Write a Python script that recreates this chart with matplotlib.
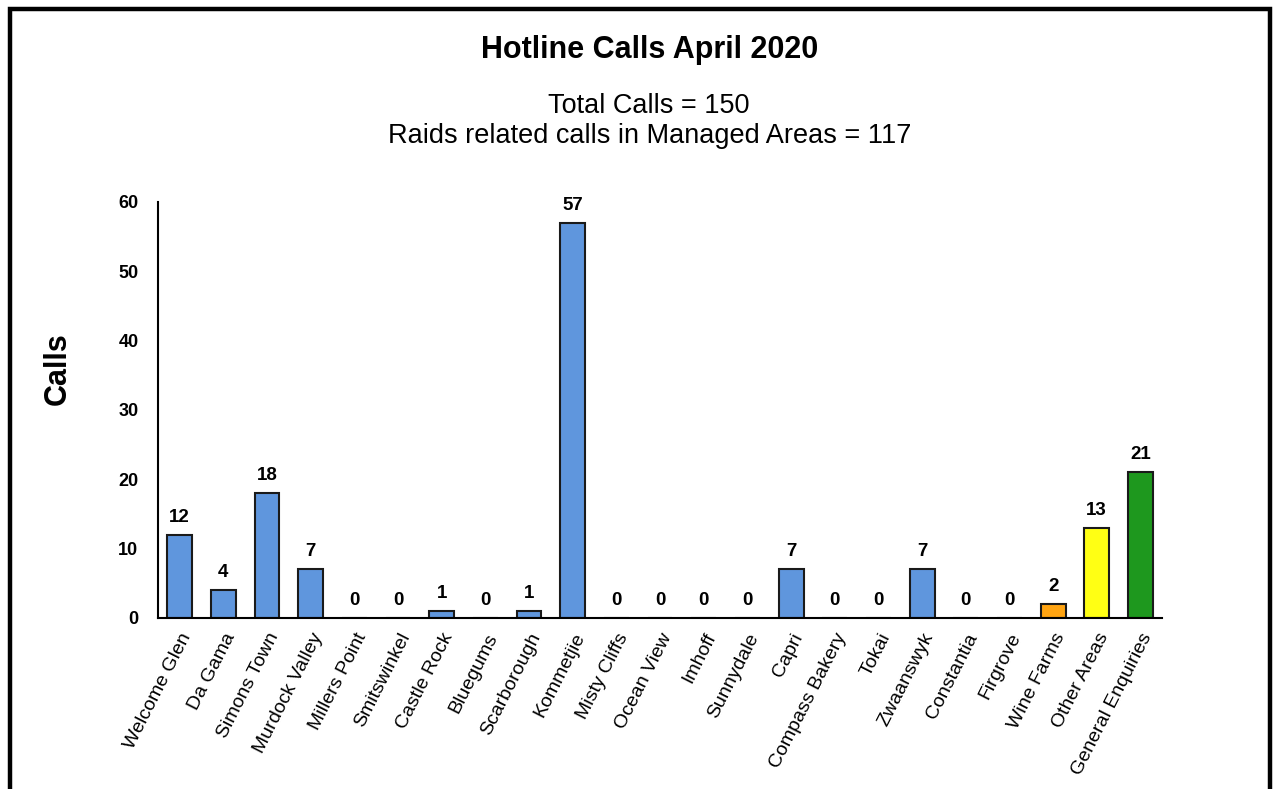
import numpy as np
import matplotlib
matplotlib.use("Agg")
from matplotlib import pyplot as plt
from matplotlib.patches import Rectangle

plt.rcParams['font.family'] = ['Liberation Sans', 'DejaVu Sans']

### DATA ###
areas = ['Welcome Glen', 'Da Gama', 'Simons Town', 'Murdock Valley', 'Millers Point',
         'Smitswinkel', 'Castle Rock', 'Bluegums', 'Scarborough', 'Kommetjie',
         'Misty Cliffs', 'Ocean View', 'Imhoff', 'Sunnydale', 'Capri',
         'Compass Bakery', 'Tokai', 'Zwaanswyk', 'Constantia', 'Firgrove',
         'Wine Farms', 'Other Areas', 'General Enquiries']
calls = [12, 4, 18, 7, 0, 0, 1, 0, 1, 57, 0, 0, 0, 0, 7, 0, 0, 7, 0, 0, 2, 13, 21]
colours = ['#5f96dd'] * 20 + ['#ffa412', '#ffff14', '#1e981e']

### FIGURE ###
fig = plt.figure(figsize=(12.73, 7.89), dpi=100)
ax = fig.add_axes([0.124, 0.217, 0.789, 0.527])

x = np.arange(len(areas))
ax.bar(x, calls, width=0.57, color=colours, edgecolor='#1a1a1a', linewidth=1.5)

for xi, v in zip(x, calls):
    ax.text(xi, v + 1.3, str(v), ha='center', va='bottom', fontsize=13.5, fontweight='bold')

ax.set_xlim(-0.5, len(areas) - 0.5)
ax.set_ylim(0, 60)
ax.set_yticks(range(0, 61, 10))
ax.set_xticks(x)
ax.set_xticklabels(areas, rotation=63, ha='right', rotation_mode='anchor', fontsize=14)
for lab in ax.get_yticklabels():
    lab.set_fontweight('bold')
    lab.set_fontsize(13)
ax.tick_params(axis='both', length=0)
ax.tick_params(axis='y', pad=14)
ax.tick_params(axis='x', pad=9)

for s in ['top', 'right']:
    ax.spines[s].set_visible(False)
ax.spines['left'].set_linewidth(1.5)
ax.spines['bottom'].set_linewidth(1.5)

ax.set_ylabel('Calls', fontsize=22, fontweight='bold')
ax.yaxis.set_label_coords(-0.085, 0.6)

### TITLES ###
fig.text(0.51, 0.937, 'Hotline Calls April 2020', ha='center', va='center',
         fontsize=22, fontweight='bold')
fig.text(0.51, 0.866, 'Total Calls = 150', ha='center', va='center', fontsize=19.5)
fig.text(0.51, 0.828, 'Raids related calls in Managed Areas = 117', ha='center',
         va='center', fontsize=19.5)

### BORDER ###
fig.patches.append(Rectangle((10 / 1273, -0.05), 1260 / 1273, 1.05 - 9 / 789,
                             transform=fig.transFigure, fill=False,
                             edgecolor='black', linewidth=3.2))

fig.savefig('out.png', dpi=100)
